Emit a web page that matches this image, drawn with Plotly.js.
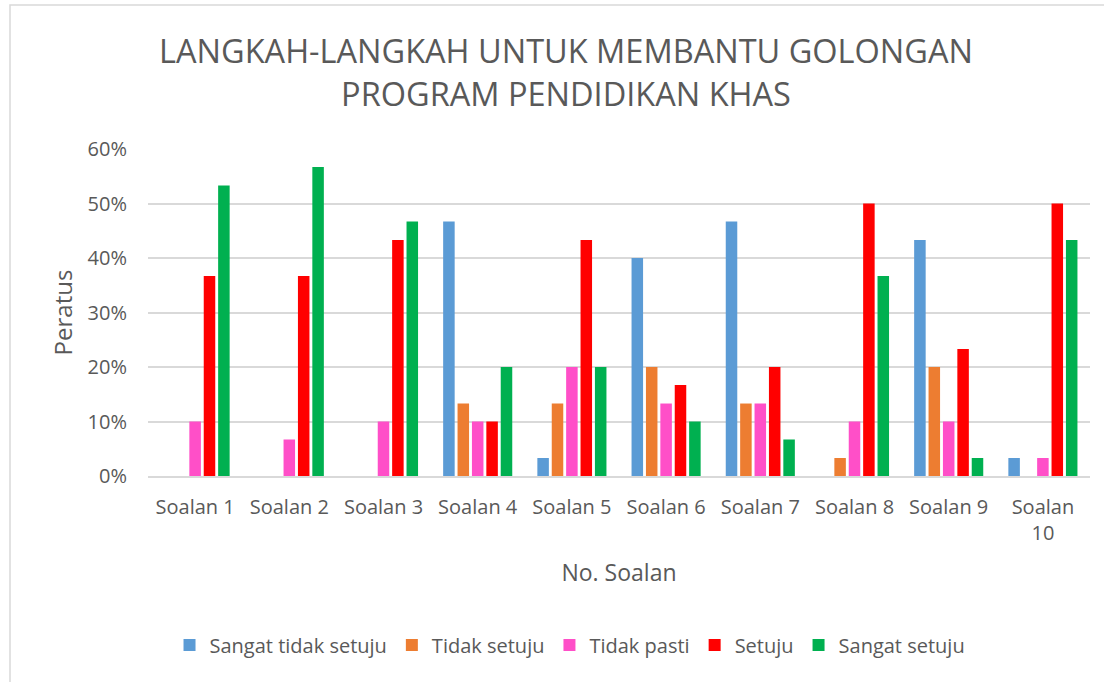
<!DOCTYPE html>
<html>
<head>
<meta charset="utf-8">
<script src="https://cdn.plot.ly/plotly-3.0.1.min.js"></script>
<style>html,body{margin:0;padding:0;background:#fff;}#chart{width:1104px;height:682px;}</style>
</head>
<body>
<div id="chart"></div>
<script>
const categories = ['Soalan 1','Soalan 2','Soalan 3','Soalan 4','Soalan 5','Soalan 6','Soalan 7','Soalan 8','Soalan 9','Soalan 10'];
const tickLabels = ['Soalan 1','Soalan 2','Soalan 3','Soalan 4','Soalan 5','Soalan 6','Soalan 7','Soalan 8','Soalan 9','Soalan<br>10'];
const seriesNames = ['Sangat tidak setuju','Tidak setuju','Tidak pasti','Setuju','Sangat setuju'];
const sangatTidakSetuju = [0, 0, 0, 0.467, 0.033, 0.400, 0.467, 0, 0.433, 0.033];
const tidakSetuju       = [0, 0, 0, 0.133, 0.133, 0.200, 0.133, 0.033, 0.200, 0];
const tidakPasti        = [0.100, 0.067, 0.100, 0.100, 0.200, 0.133, 0.133, 0.100, 0.100, 0.033];
const setuju            = [0.367, 0.367, 0.433, 0.100, 0.433, 0.167, 0.200, 0.500, 0.233, 0.500];
const sangatSetuju      = [0.533, 0.567, 0.467, 0.200, 0.200, 0.100, 0.067, 0.367, 0.033, 0.433];
const yTicks = [0, 0.1, 0.2, 0.3, 0.4, 0.5, 0.6];
const yTickLabels = ['0%','10%','20%','30%','40%','50%','60%'];

const colors = ['#5B9BD5','#ED7D31','#FF4FC8','#FF0000','#00B050'];
const allSeries = [sangatTidakSetuju, tidakSetuju, tidakPasti, setuju, sangatSetuju];
const font = 'Open Sans, sans-serif';
const txt = '#595959';

const data = allSeries.map((vals, i) => ({
  type: 'bar',
  name: seriesNames[i],
  x: categories,
  y: vals,
  marker: {color: colors[i], line: {width: 0}},
  hoverinfo: 'x+y+name'
}));

const layout = {
  width: 1104, height: 682,
  paper_bgcolor: '#fff', plot_bgcolor: '#fff',
  margin: {l: 148, r: 14, t: 149, b: 206},
  barmode: 'group', bargap: 0.236, bargroupgap: 0.2,
  font: {family: font, color: txt},
  title: {text: 'LANGKAH-LANGKAH UNTUK MEMBANTU GOLONGAN<br>PROGRAM PENDIDIKAN KHAS',
          font: {family: font, size: 32.5, color: txt}, x: 0.5127, xanchor: 'center', y: 0.907, yanchor: 'middle'},
  xaxis: {
    type: 'category', tickmode: 'array', tickvals: categories, ticktext: tickLabels,
    tickfont: {family: font, size: 20, color: txt}, ticks: '', ticklen: 0, ticklabelstandoff: 12,
    showline: true, linecolor: '#d9d9d9', linewidth: 1.5, showgrid: false, zeroline: false,
    title: {text: 'No. Soalan', font: {family: font, size: 23, color: txt}, standoff: 20}
  },
  yaxis: {
    range: [0, 0.6], tickmode: 'array', tickvals: yTicks, ticktext: yTickLabels,
    tickfont: {family: font, size: 20, color: txt}, ticks: '', ticklabelstandoff: 20,
    showgrid: true, gridcolor: '#d9d9d9', gridwidth: 1.5, zeroline: false, showline: false,
    title: {text: 'Peratus', font: {family: font, size: 24, color: txt}, standoff: 8}
  },
  legend: {orientation: 'h', x: 0.448, xanchor: 'center', y: -0.517, yanchor: 'middle',
           font: {family: font, size: 20, color: txt}, itemwidth: 30, traceorder: 'normal'},
  shapes: [{type: 'rect', xref: 'paper', yref: 'paper', x0: -0.1465, x1: 1.05, y0: -0.7, y1: 1.44,
            line: {color: '#d9d9d9', width: 1.5}, fillcolor: 'rgba(0,0,0,0)', layer: 'below'}]
};

Plotly.newPlot('chart', data, layout, {displayModeBar: false, responsive: false});
</script>
</body>
</html>
